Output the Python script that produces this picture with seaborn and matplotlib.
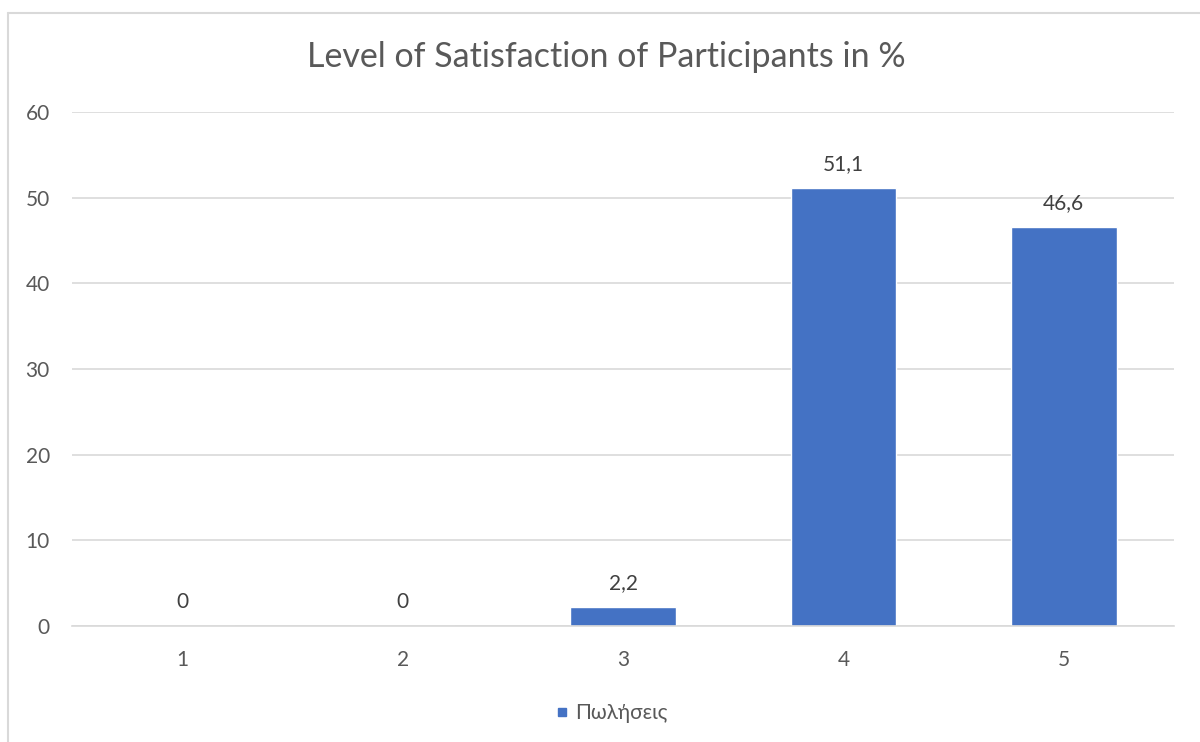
import matplotlib
matplotlib.use("Agg")
import matplotlib.pyplot as plt
import seaborn as sns
import pandas as pd
from matplotlib.lines import Line2D
from matplotlib.ticker import FixedLocator

categories = ["1", "2", "3", "4", "5"]
values = [0, 0, 2.2, 51.1, 46.6]
series_name = "Πωλήσεις"
title = "Level of Satisfaction of Participants in %"
y_ticks = [0, 10, 20, 30, 40, 50, 60]

sns.set_theme(style="white")
plt.rcParams['font.family'] = ['Lato', 'DejaVu Sans']

df = pd.DataFrame({"cat": categories, "val": values})

fig = plt.figure(figsize=(12, 7.42), dpi=100)
ax = fig.add_axes([72/1200, 1 - 626/742, (1174-72)/1200, (626-112)/742])

bar_color = "#4472C4"
grid_c = "#d9d9d9"
text_c = "#595959"

sns.barplot(data=df, x="cat", y="val", color=bar_color, width=0.48, ax=ax,
            saturation=1, zorder=3)

ax.set_xlim(-0.5, 4.5)
ax.set_ylim(0, 60)
ax.set_yticks(y_ticks)
ax.yaxis.grid(True, color=grid_c, linewidth=1.2, zorder=0)
ax.set_axisbelow(True)
for s in ["top", "right", "left"]:
    ax.spines[s].set_visible(False)
ax.spines["bottom"].set_color(grid_c)
ax.spines["bottom"].set_linewidth(1.2)
ax.spines["bottom"].set_zorder(4)

ax.tick_params(axis="y", length=0, pad=16, labelsize=15, labelcolor=text_c)
ax.tick_params(axis="x", which="major", length=0, pad=17, labelsize=15, labelcolor=text_c)
ax.xaxis.set_minor_locator(FixedLocator([i - 0.5 for i in range(len(categories) + 1)]))
ax.tick_params(axis="x", which="minor", length=7, width=1.2, color=grid_c)
ax.set_xlabel("")
ax.set_ylabel("")

for i, v in enumerate(values):
    lab = f"{v:g}".replace(".", ",")
    ax.annotate(lab, (i, v), xytext=(0, 13), textcoords="offset points",
                ha="center", va="baseline", fontsize=15, color="#404040")

fig.text(0.505, 1 - 57/742, title, ha="center", va="center", fontsize=24.5, color=text_c)

handle = Line2D([], [], linestyle="none", marker="s", markersize=6,
                markerfacecolor=bar_color, markeredgecolor=bar_color)
fig.legend([handle], [series_name], loc="center", bbox_to_anchor=(0.508, 1 - 713/742),
           frameon=False, fontsize=15, labelcolor=text_c, handletextpad=0.1,
           handlelength=1.0)

# chart border (top and left visible)
fig.add_artist(Line2D([8/1200, 1.0], [1 - 13/742, 1 - 13/742], color=grid_c,
                      linewidth=1.5, transform=fig.transFigure))
fig.add_artist(Line2D([8/1200, 8/1200], [0, 1 - 13/742], color=grid_c,
                      linewidth=1.5, transform=fig.transFigure))

fig.savefig("out.png", dpi=100, facecolor="white")
